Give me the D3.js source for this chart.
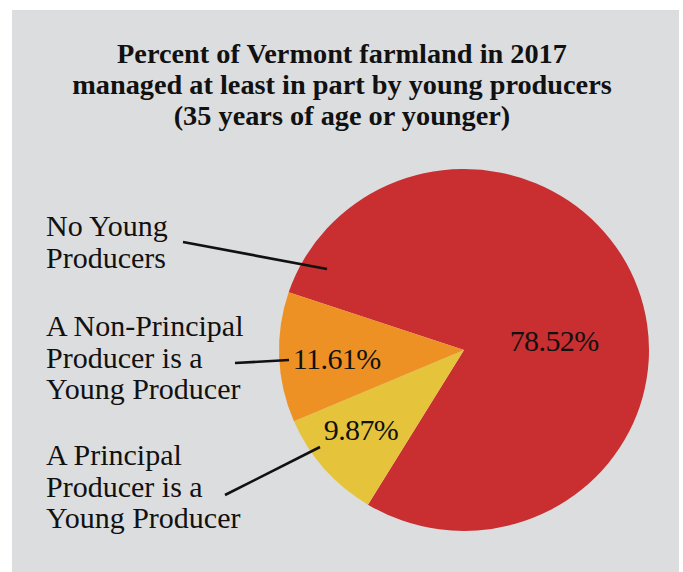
<!DOCTYPE html>
<html>
<head>
<meta charset="utf-8">
<script src="https://cdn.jsdelivr.net/npm/d3@7"></script>
<style>
  html, body { margin: 0; padding: 0; background: #ffffff; }
  svg { display: block; }
</style>
</head>
<body>
<svg id="chart" width="683" height="572"></svg>
<script>
// Share of Vermont farmland (2017) by young-producer involvement
const categories = [
  "No Young Producers",
  "A Principal Producer is a Young Producer",
  "A Non-Principal Producer is a Young Producer"
];
const shares = [78.52, 9.87, 11.61];
const valueLabels = ["78.52%", "9.87%", "11.61%"];
const legendLines = [
  ["No Young", "Producers"],
  ["A Principal", "Producer is a", "Young Producer"],
  ["A Non-Principal", "Producer is a", "Young Producer"]
];
const titleLines = [
  "Percent of Vermont farmland in 2017",
  "managed at least in part by young producers",
  "(35 years of age or younger)"
];

const colors = ["#c92e30", "#ee9124", "#e5c43c"];
const sliceColor = d3.scaleOrdinal().domain(categories).range([colors[0], colors[2], colors[1]]);

const svg = d3.select("#chart");
const W = 683, H = 572;

// panel
svg.append("rect").attr("x", 12).attr("y", 10).attr("width", 667).attr("height", H - 10)
  .attr("fill", "#dcdddf");

// title
svg.append("g").selectAll("text").data(titleLines).join("text")
  .attr("x", 342)
  .attr("y", (d, i) => 63 + i * 31)
  .attr("text-anchor", "middle")
  .attr("font-family", "'Liberation Serif', 'Times New Roman', serif")
  .attr("font-weight", "bold")
  .attr("font-size", 28.3)
  .attr("fill", "#111")
  .text(d => d);

// pie
const cx = 464, cy = 350, R = 185;
const pie = d3.pie().sort(null).value(d => d)
  .startAngle(-71.4 * Math.PI / 180)
  .endAngle(-71.4 * Math.PI / 180 + 2 * Math.PI);
const arcs = pie(shares);
const arc = d3.arc().innerRadius(0).outerRadius(R);

const pieG = svg.append("g").attr("transform", `translate(${cx},${cy}) scale(1,0.978)`);
pieG.selectAll("path").data(arcs).join("path")
  .attr("d", arc)
  .attr("fill", (d, i) => sliceColor(categories[i]));

// value labels: placed along each slice's mid-angle, nudged for legibility
const labelPlace = [
  { r: 0.49, turn: 14, dy: 10 },
  { r: 0.71, turn: 2.6, dy: 10 },
  { r: 0.69, turn: -1.9, dy: 10 }
];
svg.append("g").selectAll("text").data(arcs).join("text")
  .each(function (d, i) {
    const p = labelPlace[i];
    const a = (d.startAngle + d.endAngle) / 2 + p.turn * Math.PI / 180;
    const rr = p.r * R;
    d3.select(this)
      .attr("x", cx + rr * Math.sin(a))
      .attr("y", cy - rr * Math.cos(a) * 0.978 + p.dy);
  })
  .attr("text-anchor", "middle")
  .attr("font-family", "'Liberation Serif', 'Times New Roman', serif")
  .attr("font-size", 30)
  .attr("letter-spacing", -0.6)
  .attr("fill", "#111")
  .text((d, i) => valueLabels[i]);

// category labels on the left
const legendTop = [236, 465, 336];
const legendG = svg.append("g");
legendLines.forEach((lines, i) => {
  legendG.append("g").selectAll("text").data(lines).join("text")
    .attr("x", 46)
    .attr("y", (d, j) => legendTop[i] + j * 31.5)
    .attr("font-family", "'Liberation Serif', 'Times New Roman', serif")
    .attr("font-size", 30)
    .attr("fill", "#111")
    .text(d => d);
});

// leader lines from labels into their slices
const leaders = [
  [[183, 242], [327, 269]],
  [[225, 495], [320, 447]],
  [[235, 363], [289, 360]]
];
svg.append("g").selectAll("line").data(leaders).join("line")
  .attr("x1", d => d[0][0]).attr("y1", d => d[0][1])
  .attr("x2", d => d[1][0]).attr("y2", d => d[1][1])
  .attr("stroke", "#111")
  .attr("stroke-width", 2.6);
</script>
</body>
</html>
